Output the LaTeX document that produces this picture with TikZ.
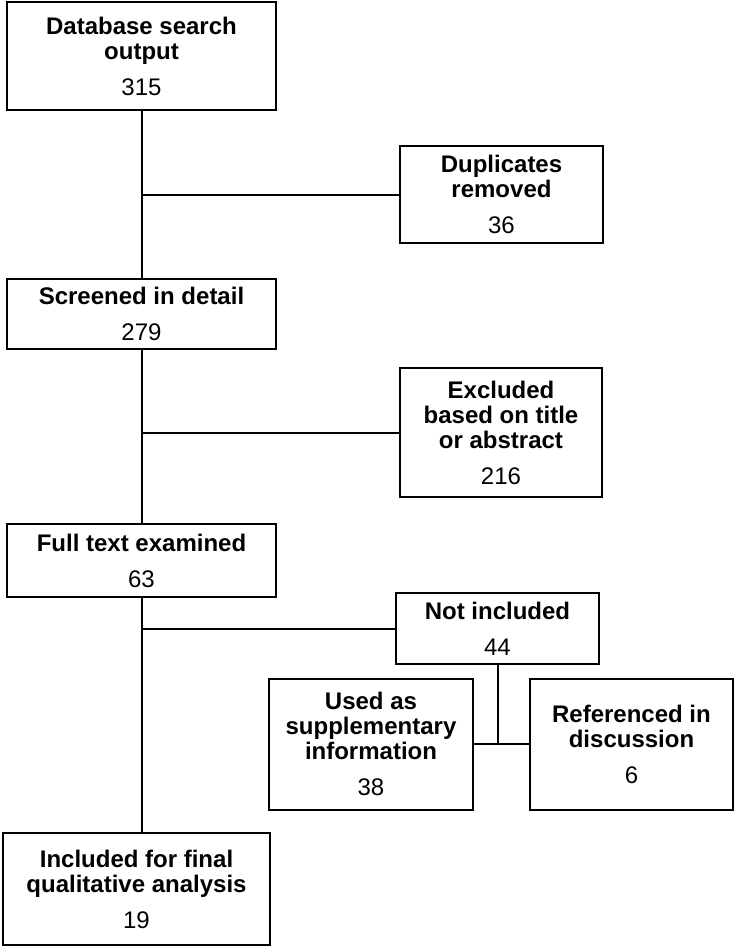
\documentclass[tikz,border=0pt]{standalone}
\usepackage{fontspec}
\setmainfont{Liberation Sans}
\usetikzlibrary{calc}

\tikzset{
  box/.style={draw, line width=2pt, align=center, inner sep=0pt,
    font=\fontsize{24}{25}\selectfont},
  link/.style={line width=2pt},
}

\begin{document}
\begin{tikzpicture}[x=1pt, y=-1pt]
    \useasboundingbox (0,0) rectangle (734,946);

    % main column
    \node[box, minimum width=269pt, minimum height=108pt] (db) at (141.5,56)
      {\textbf{Database search}\\\textbf{output}\\[11pt]315};
    \node[box, minimum width=269pt, minimum height=70pt] (scr) at (141.5,314)
      {\textbf{Screened in detail}\\[11pt]279};
    \node[box, minimum width=269pt, minimum height=73pt] (full) at (141.5,560.5)
      {\textbf{Full text examined}\\[11pt]63};
    \node[box, minimum width=267pt, minimum height=112pt] (incl) at (136.5,889)
      {\textbf{Included for final}\\\textbf{qualitative analysis}\\[11pt]19};

    % side boxes
    \node[box, minimum width=203pt, minimum height=97pt] (dup) at (501.5,194.5)
      {\textbf{Duplicates}\\\textbf{removed}\\[11pt]36};
    \node[box, minimum width=202pt, minimum height=129pt] (excl) at (501,432.5)
      {\textbf{Excluded}\\\textbf{based on title}\\\textbf{or abstract}\\[11pt]216};
    \node[box, minimum width=203pt, minimum height=71pt] (notin) at (497.5,628.5)
      {\textbf{Not included}\\[11pt]44};
    \node[box, minimum width=204pt, minimum height=131pt] (supp) at (371,744)
      {\textbf{Used as}\\\textbf{supplementary}\\\textbf{information}\\[11pt]38};
    \node[box, minimum width=203pt, minimum height=131pt] (ref) at (631.5,744)
      {\textbf{Referenced in}\\\textbf{discussion}\\[11pt]6};

    \draw[link] (db.south) -- (scr.north);
    \draw[link] (scr.south) -- (full.north);
    \draw[link] (full.south) -- (full.south |- incl.north);
    \draw[link] (db.south |- dup.west) -- (dup.west);
    \draw[link] (scr.south |- excl.west) -- (excl.west);
    \draw[link] (full.south |- notin.west) -- (notin.west);
    \draw[link] (notin.south) -- (notin.south |- supp.east);
    \draw[link] (supp.east) -- (ref.west);
\end{tikzpicture}
\end{document}
